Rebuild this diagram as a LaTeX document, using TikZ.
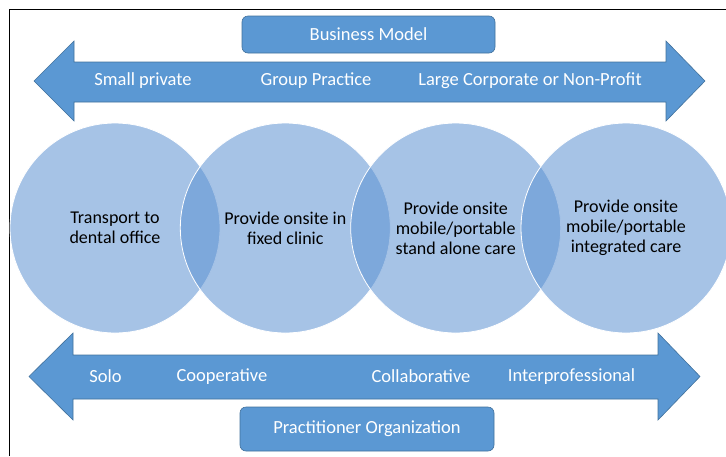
\documentclass[tikz,border=0pt]{standalone}
\usepackage{fontspec}
\setmainfont{Carlito}
\usepackage{tikz}
\usetikzlibrary{positioning}

\definecolor{barblue}{RGB}{91,152,211}
\definecolor{baredge}{RGB}{65,113,156}
\definecolor{ballblue}{RGB}{90,144,209}

\begin{document}
\begin{tikzpicture}[
              x=1pt, y=-1pt,
              every node/.style={font=\fontsize{18.5}{20}\selectfont},
              band/.style={fill=barblue, draw=baredge, line width=0.6pt},
              banner/.style={rectangle, rounded corners=6pt, fill=barblue, draw=baredge,
                             line width=0.6pt, text=white},
              bandtext/.style={text=white, inner sep=1pt},
              bubble/.style={circle, minimum size=210pt, inner sep=0pt, align=center,
                             fill=ballblue, fill opacity=0.54, text opacity=1,
                             draw=white, line width=0.8pt,
                             font=\fontsize{18}{20}\selectfont}
            ]
            \useasboundingbox (0,0) rectangle (726,456);

            % Frame (cut off at right and bottom)
            \draw[line width=1.3pt] (9.5,456) -- (9.5,9.5) -- (726,9.5);

            % Top arrow: business model
            \draw[band] (34,81) -- (74,41) -- (74,62) -- (666,62) -- (666,41) -- (705,81)
              -- (666,121) -- (666,102) -- (74,102) -- (74,121) -- cycle;
            \node[banner, minimum width=253pt, minimum height=37pt] (BM) at (368.5,34.5) {Business Model};
            \node[bandtext] (SP) at (143,81) {Small private};
            \node[bandtext] (GP) at (316,81) {Group Practice};
            \node[bandtext] (LC) at (530,81) {Large Corporate or Non-Profit};

            % Care models (overlapping circles)
            \node[bubble] (C1) at (115,228) {Transport to\\dental office};
            \node[bubble] (C2) at (285.3,228) {Provide onsite in\\fixed clinic};
            \node[bubble] (C3) at (455.7,228) {Provide onsite\\mobile/portable\\stand alone care};
            \node[bubble] (C4) at (626,228) {Provide onsite\\mobile/portable\\integrated care};

            % Bottom arrow: practitioner organization
            \draw[band] (29,376.5) -- (73,333) -- (73,355) -- (658,355) -- (658,333) -- (700,376.5)
              -- (658,420) -- (658,399) -- (73,399) -- (73,420) -- cycle;
            \node[bandtext] (SO) at (105.5,376.5) {Solo};
            \node[bandtext] (CP) at (222,376.5) {Cooperative};
            \node[bandtext] (CL) at (421,376.5) {Collaborative};
            \node[bandtext] (IP) at (571.5,376.5) {Interprofessional};
            \node[banner, minimum width=254pt, minimum height=44pt] (PO) at (367,429) {Practitioner Organization};

            \end{tikzpicture}
\end{document}
